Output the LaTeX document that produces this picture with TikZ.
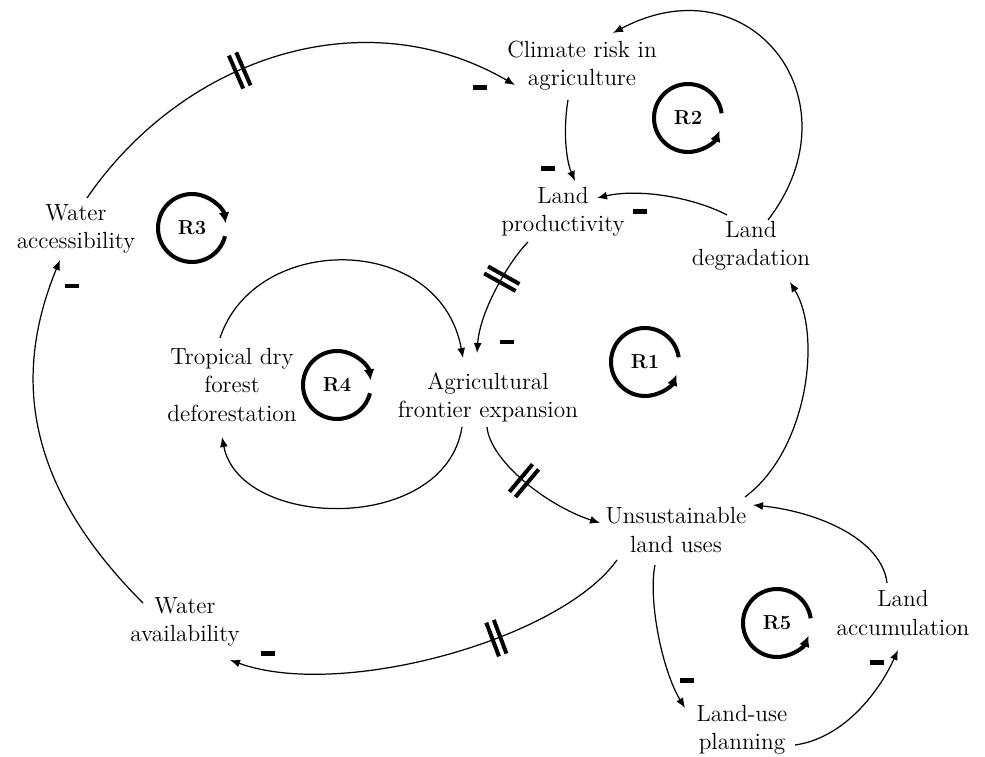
\documentclass[tikz,border=0pt]{standalone}
\usetikzlibrary{calc, arrows.meta}

\newcommand{\delaybars}{\rule[-0.36cm]{0.08cm}{0.72cm}\hspace{0.08cm}\rule[-0.36cm]{0.08cm}{0.72cm}}

\begin{document}
\begin{tikzpicture}[
  x=0.02cm, y=-0.02cm,
  >={Latex[length=0.2cm, width=0.16cm]}, line width=0.7pt,
  var/.style      = {align=center, inner sep=0pt, font=\fontsize{13.3}{16}\selectfont},
  loopname/.style = {inner sep=0pt, font=\fontsize{11.5}{13}\selectfont\bfseries},
  loopline/.style = {line width=2.3pt, -{Latex[length=0.22cm, width=0.22cm]}},
  minus/.style    = {fill, inner sep=0pt, minimum width=0.28cm, minimum height=0.1cm},
  delay/.style    = {sloped, inner sep=0pt},
]
  \useasboundingbox (0,0) rectangle (985,757);

  % ---- variables ----
  \node[var] (clim)   at (582,66)  {Climate risk in\\agriculture};
  \node[var] (lprod)  at (563,212) {Land\\productivity};
  \node[var] (ldeg)   at (751,246) {Land\\degradation};
  \node[var] (wacc)   at (76,229)  {Water\\accessibility};
  \node[var] (trop)   at (232,385) {Tropical dry\\forest\\deforestation};
  \node[var] (afe)    at (488,397) {Agricultural\\frontier expansion};
  \node[var] (unsus)  at (676,530) {Unsustainable\\land uses};
  \node[var] (wavail) at (185,622) {Water\\availability};
  \node[var] (lacc)   at (903,613) {Land\\accumulation};
  \node[var] (lup)    at (742,730) {Land-use\\planning};

  % ---- loop markers ----
  \node[loopname] (r1) at (645,362) {R1};
  \node[loopname] (r2) at (688,118) {R2};
  \node[loopname] (r3) at (192,228) {R3};
  \node[loopname] (r4) at (337,385) {R4};
  \node[loopname] (r5) at (777,623) {R5};

  \draw[loopline] (r1.center) ++(8:0.68cm)   arc[start angle=8,   end angle=338,  radius=0.68cm];
  \draw[loopline] (r2.center) ++(8:0.68cm)   arc[start angle=8,   end angle=338,  radius=0.68cm];
  \draw[loopline] (r5.center) ++(8:0.68cm)   arc[start angle=8,   end angle=338,  radius=0.68cm];
  \draw[loopline] (r3.center) ++(-14:0.68cm) arc[start angle=-14, end angle=-352, radius=0.68cm];
  \draw[loopline] (r4.center) ++(-14:0.68cm) arc[start angle=-14, end angle=-352, radius=0.68cm];

  % ---- links ----
  \draw[->] ($(wacc)+(11,-31)$) .. controls (183,58) and (363,-3) .. ($(clim)+(-67,19)$)
    node[delay, pos=0.41] (d1) {\delaybars};
  \draw[->] ($(clim)+(-14,34)$) .. controls (563,130) and (566,160) .. ($(lprod)+(12,-31)$);
  \draw[->] ($(ldeg)+(-24,-31)$) .. controls (695,198) and (640,188) .. ($(lprod)+(34,-14)$);
  \draw[->] ($(ldeg)+(17,-26)$) .. controls (860,100) and (750,-40) .. ($(clim)+(31,-33)$);
  \draw[->] ($(lprod)+(-35,30)$) .. controls (510,260) and (480,310) .. ($(afe)+(-11,-44)$)
    node[delay, pos=0.42] (d2) {\delaybars};
  \draw[->] ($(trop)+(-12,-47)$) .. controls (255,232) and (440,232) .. ($(afe)+(-25,-39)$);
  \draw[->] ($(afe)+(-26,30)$) .. controls (445,535) and (240,530) .. ($(trop)+(-10,52)$);
  \draw[->] ($(afe)+(-1,30)$) .. controls (490,460) and (545,505) .. ($(unsus)+(-76,-7)$)
    node[delay, pos=0.5] (d3) {\delaybars};
  \draw[->] ($(unsus)+(69,-33)$) .. controls (808,450) and (822,335) .. ($(ldeg)+(39,36)$);
  \draw[->] ($(unsus)+(-59,30)$) .. controls (560,640) and (340,700) .. ($(wavail)+(45,38)$)
    node[delay, pos=0.38] (d4) {\delaybars};
  \draw[->] ($(wavail)+(-42,-19)$) .. controls (20,480) and (15,370) .. ($(wacc)+(-16,31)$);
  \draw[->] ($(unsus)+(-21,35)$) .. controls (648,600) and (662,670) .. ($(lup)+(-57,-22)$);
  \draw[->] ($(lup)+(53,15)$) .. controls (845,738) and (880,690) .. ($(lacc)+(-5,37)$);
  \draw[->] ($(lacc)+(-16,-30)$) .. controls (882,540) and (820,512) .. ($(unsus)+(77,-25)$);

  % ---- polarity signs ----
  \node[minus] (m1) at (480,88)  {};
  \node[minus] (m2) at (548,169) {};
  \node[minus] (m3) at (640,212) {};
  \node[minus] (m4) at (507,342) {};
  \node[minus] (m5) at (268,653) {};
  \node[minus] (m6) at (72,286)  {};
  \node[minus] (m7) at (687,680) {};
  \node[minus] (m8) at (877,662) {};
\end{tikzpicture}
\end{document}
